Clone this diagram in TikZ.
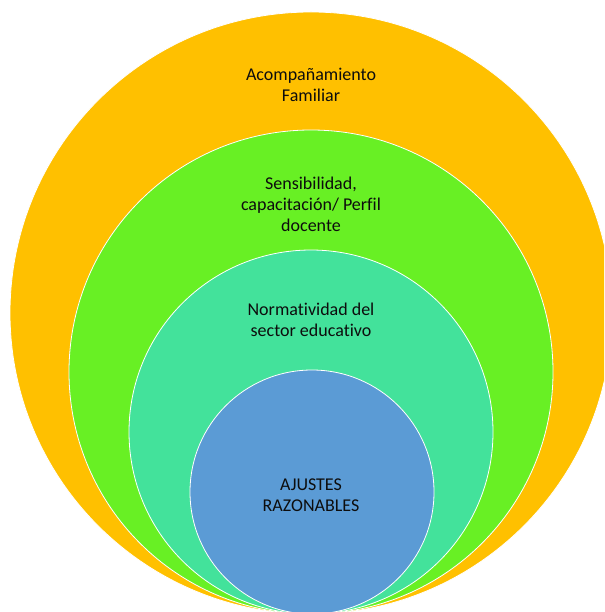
\documentclass[tikz,border=0pt]{standalone}
\usepackage{fontspec}
\setmainfont{Carlito}[Ligatures={NoCommon}]
\definecolor{cOrange}{HTML}{FFC000}
\definecolor{cGreen}{HTML}{68F024}
\definecolor{cTeal}{HTML}{43E29B}
\definecolor{cBlue}{HTML}{5B9BD5}
\definecolor{cText}{HTML}{0D0D0D}
\begin{document}
\begin{tikzpicture}[x=1pt,y=-1pt,
  ring/.style={circle, draw=white, line width=0.8pt, inner sep=0pt, minimum size=#1},
  lbl/.style={align=center, text=cText, font=\fontsize{18}{21}\selectfont}]
\useasboundingbox (0,0) rectangle (604,612);
\begin{scope}
\clip (0,0) rectangle (604,612);
\node[ring=602pt, fill=cOrange] (outer) at (311,313) {};
\node[ring=484pt, fill=cGreen] (green) at (311,372) {};
\node[ring=364pt, fill=cTeal] (teal) at (311,432) {};
\node[ring=244pt, fill=cBlue] (blue) at (312,492) {};
\end{scope}
\node[lbl] (t1) at (311,85) {Acompañamiento\\Familiar};
\node[lbl] (t2) at (311,204) {Sensibilidad,\\capacitación/ Perfil\\docente};
\node[lbl] (t3) at (311,320) {Normatividad del\\sector educativo};
\node[lbl] (t4) at (311,495) {AJUSTES\\RAZONABLES};
\end{tikzpicture}
\end{document}
